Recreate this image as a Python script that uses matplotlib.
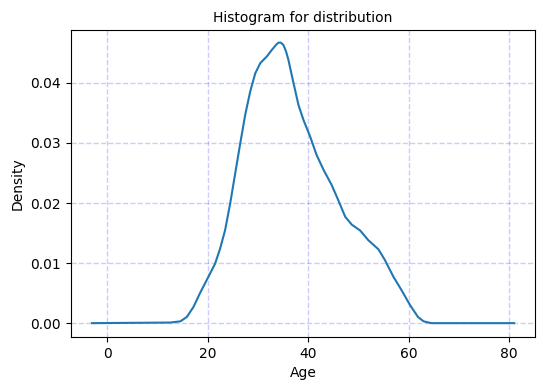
import matplotlib
matplotlib.use("Agg")
import matplotlib.pyplot as plt

age = [-3.0, 12.6, 14.6, 15.9, 17.2, 18.5, 20.1, 21.5, 22.5, 23.5, 24.5, 25.5, 26.5, 27.5,
       28.5, 29.5, 30.5, 31.8, 32.8, 33.6, 34.1, 34.6, 35.1, 35.6, 36.1, 37.1, 38.1, 39.1,
       40.4, 41.7, 43.1, 44.7, 46.0, 47.4, 48.7, 50.4, 52.0, 54.0, 55.3, 57.0, 58.6, 60.3,
       61.9, 63.0, 64.5, 81.0]
density = [0.0, 0.0001, 0.0003, 0.00105, 0.0027, 0.0050, 0.0076, 0.0099, 0.0124, 0.0155,
           0.0199, 0.0249, 0.0299, 0.0347, 0.0386, 0.0416, 0.0433, 0.0444, 0.0455, 0.0463,
           0.0467, 0.0467, 0.0463, 0.0453, 0.0438, 0.0400, 0.0363, 0.0338, 0.0311, 0.0280,
           0.0255, 0.0230, 0.0205, 0.0177, 0.0164, 0.0154, 0.0138, 0.0123, 0.0105, 0.0077,
           0.0055, 0.0030, 0.0010, 0.0003, 0.0, 0.0]

fig = plt.figure(figsize=(5.45, 3.9), dpi=100)
ax = fig.add_axes([0.130, 0.136, 0.852, 0.787])
ax.plot(age, density, color="#1f77b4", linewidth=1.5)
ax.set_xticks([0, 20, 40, 60, 80])
ax.set_yticks([0.0, 0.01, 0.02, 0.03, 0.04])
ax.set_xlim(-7.2, 85.2)
ax.set_ylim(-0.0023, 0.0488)
ax.grid(True, color="blue", alpha=0.2, linestyle="--", linewidth=1.0)
ax.set_title("Histogram for distribution", fontsize=10)
ax.set_xlabel("Age")
ax.set_ylabel("Density")
fig.savefig("out.png", dpi=100)
